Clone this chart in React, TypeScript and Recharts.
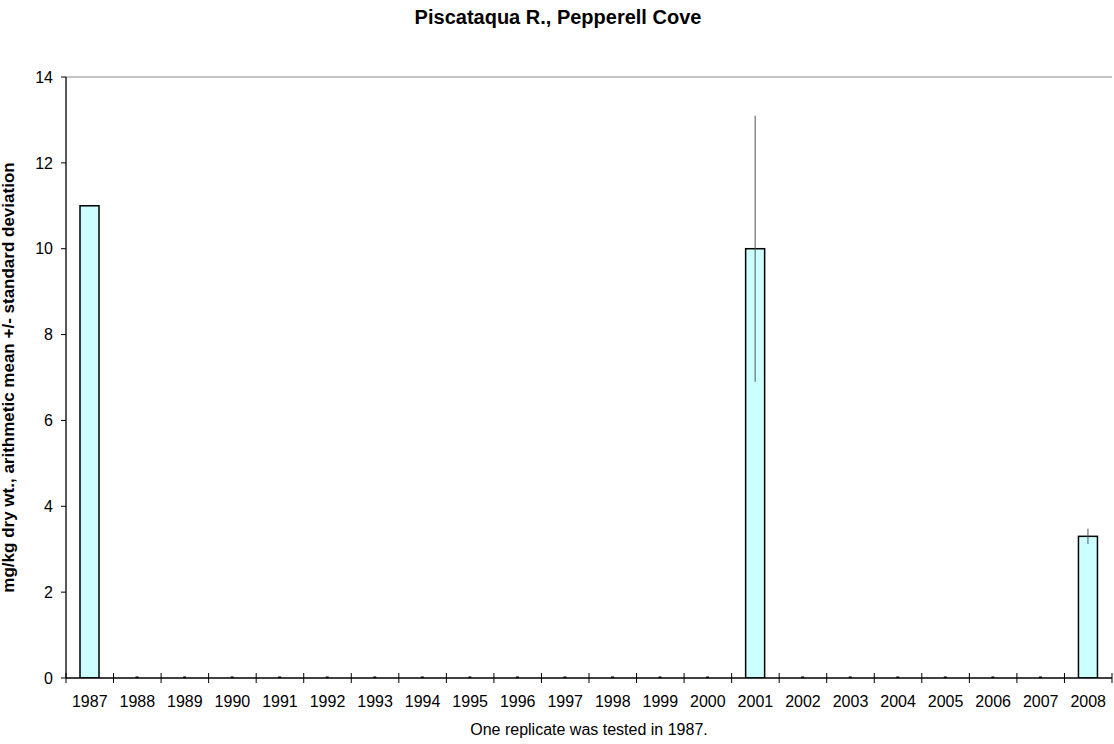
import React from 'react'
import {
  BarChart,
  Bar,
  XAxis,
  YAxis,
  ErrorBar,
  ReferenceLine,
} from 'recharts'

const years = [
  '1987', '1988', '1989', '1990', '1991', '1992', '1993', '1994', '1995', '1996', '1997',
  '1998', '1999', '2000', '2001', '2002', '2003', '2004', '2005', '2006', '2007', '2008',
]
// arithmetic mean, mg/kg dry wt.
const means = [11, 0, 0, 0, 0, 0, 0, 0, 0, 0, 0, 0, 0, 0, 10, 0, 0, 0, 0, 0, 0, 3.3]
// standard deviation (null = no error bar)
const sds: (number | null)[] = [
  0, null, null, null, null, null, null, null, null, null, null,
  null, null, null, 3.1, null, null, null, null, null, null, 0.18,
]
const yTicks = [0, 2, 4, 6, 8, 10, 12, 14]

const title = 'Piscataqua R., Pepperell Cove'
const yTitle = 'mg/kg dry wt., arithmetic mean +/- standard deviation'
const xTitle = 'One replicate was tested in 1987.'

const FONT = 'Arial, "Liberation Sans", Helvetica, sans-serif'

const chartData = years.map((year, i) => ({
  year,
  mean: means[i],
  err: sds[i] == null ? null : [sds[i], sds[i]],
}))

// Excel-like bar: zero bars leave a small dark mark on the axis
const BarShape = (props: any) => {
  const { x, y, width, height } = props
  if (!height) {
    return <rect x={x + width / 2 - 1.5} y={y - 1.5} width={3} height={3} fill="#000" />
  }
  return (
    <rect x={x} y={y} width={width} height={height} fill="#CCFFFF" stroke="#000" strokeWidth={1.5} />
  )
}

// category labels plus tick marks at the category boundaries
const YearTick = (props: any) => {
  const { x, y, payload, index } = props
  const half = payload.offset || 0
  const last = index === years.length - 1
  return (
    <g>
      <line x1={x - half} x2={x - half} y1={y - 5} y2={y + 5} stroke="#000" />
      {last && <line x1={x + half} x2={x + half} y1={y - 5} y2={y + 5} stroke="#000" />}
      <text x={x} y={y + 29} textAnchor="middle" fontSize={16} fill="#000" fontFamily={FONT}>
        {payload.value}
      </text>
    </g>
  )
}

export default function App() {
  return (
    <div style={{ position: 'absolute', left: 0, top: 0, width: 1114, height: 744, background: '#fff', fontFamily: FONT }}>
      <BarChart
        width={1114}
        height={744}
        data={chartData}
        margin={{ top: 77, right: 2, left: 10, bottom: 0 }}
        barCategoryGap={0}
      >
        <XAxis
          dataKey="year"
          interval={0}
          height={66}
          tickSize={0}
          tickMargin={0}
          tickLine={false}
          axisLine={{ stroke: '#000', strokeWidth: 1.5 }}
          tick={<YearTick />}
        />
        <YAxis
          domain={[0, 14]}
          ticks={yTicks}
          width={56}
          tickSize={5}
          tickMargin={8}
          allowDataOverflow
          axisLine={{ stroke: '#222', strokeWidth: 1.5 }}
          tickLine={{ stroke: '#000' }}
          tick={{ fontSize: 16, fill: '#000', fontFamily: FONT }}
        />
        <YAxis
          yAxisId="frame"
          orientation="right"
          width={0}
          domain={[0, 14]}
          tick={false}
          tickLine={false}
          axisLine={{ stroke: '#888' }}
        />
        <ReferenceLine y={14} stroke="#888" />
        <Bar dataKey="mean" barSize={19} shape={<BarShape />} isAnimationActive={false}>
          <ErrorBar dataKey="err" width={0} stroke="#555" strokeWidth={1} direction="y" />
        </Bar>
      </BarChart>
      <svg
        width={1114}
        height={744}
        style={{ position: 'absolute', left: 0, top: 0, pointerEvents: 'none' }}
      >
        <text x={558} y={24} textAnchor="middle" fontSize={20} fontWeight="bold" fontFamily={FONT} fill="#000">
          {title}
        </text>
        <text
          x={0}
          y={0}
          transform="translate(8, 377.5) rotate(-90)"
          textAnchor="middle"
          dominantBaseline="central"
          fontSize={17}
          fontWeight="bold"
          fontFamily={FONT}
          fill="#000"
        >
          {yTitle}
        </text>
        <text x={589} y={735} textAnchor="middle" fontSize={16} fontFamily={FONT} fill="#000">
          {xTitle}
        </text>
      </svg>
    </div>
  )
}
